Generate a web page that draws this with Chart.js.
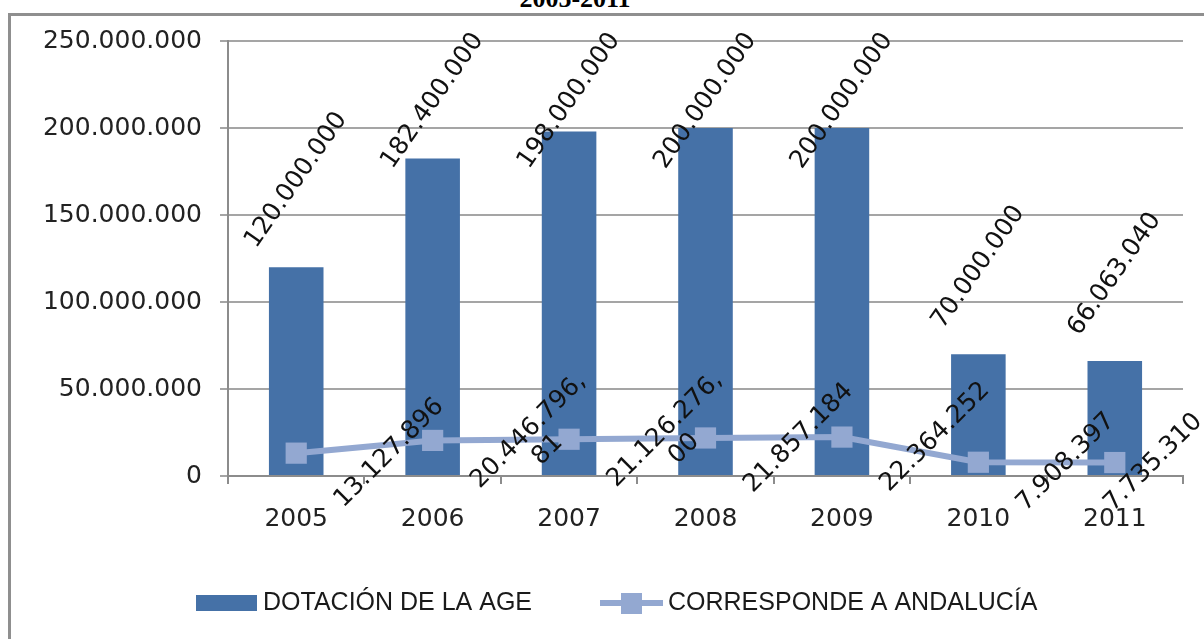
<!DOCTYPE html>
<html>
<head>
<meta charset="utf-8">
<script src="https://cdn.jsdelivr.net/npm/chart.js@4.4.1/dist/chart.umd.min.js"></script>
<style>
  html, body { margin: 0; padding: 0; background: #fff; overflow: hidden; }
  #frame { position: absolute; left: 8px; top: 13px; width: 1400px; height: 900px; border: 3px solid #8f8f8f; }
  #title { position: absolute; left: 0; top: -14px; width: 1150px; text-align: center;
           font: bold 26px "Liberation Serif", serif; line-height: 26px; color: #000; }
  #chart { position: absolute; left: 0; top: 0; }
</style>
</head>
<body>
<div id="frame"></div>
<div id="title">2005-2011</div>
<canvas id="chart" width="1204" height="639"></canvas>
<script>
// data
const years = ['2005', '2006', '2007', '2008', '2009', '2010', '2011'];
const dotacionAge = [120000000, 182400000, 198000000, 200000000, 200000000, 70000000, 66063040];
const andalucia = [13127896, 20446796.81, 21126276.00, 21857184, 22364252, 7908397, 7735310];
const andaluciaDecimals = [0, 2, 2, 0, 0, 0, 0];
const yTicks = [0, 50000000, 100000000, 150000000, 200000000, 250000000];
const seriesNames = ['DOTACIÓN DE LA AGE', 'CORRESPONDE A ANDALUCÍA'];

const barColor = '#4571a7';
const lineColor = '#93a8d1';
const axisFont = { family: 'DejaVu Sans', size: 25 };

// 20446796.81 -> ['20.446.796,', '81']
function fmt(v, dec) {
  const parts = v.toFixed(dec || 0).split('.');
  const whole = parts[0].replace(/\B(?=(\d{3})+(?!\d))/g, '.');
  return parts[1] ? [whole + ',', parts[1]] : [whole];
}

// rotated data labels, like the spreadsheet does
const valueLabels = {
  id: 'valueLabels',
  afterDatasetsDraw(chart) {
    const ctx = chart.ctx;
    ctx.save();
    ctx.font = '25px "DejaVu Sans"';
    ctx.fillStyle = '#111';
    ctx.textAlign = 'center';
    ctx.textBaseline = 'middle';

    chart.getDatasetMeta(0).data.forEach((bar, i) => {
      const txt = fmt(dotacionAge[i])[0];
      const cy = Math.max(bar.y - 87, 101);
      ctx.save();
      ctx.translate(bar.x, cy);
      ctx.rotate(-55 * Math.PI / 180);
      ctx.fillText(txt, 0, 0);
      ctx.restore();
    });

    const lh = 27;
    chart.getDatasetMeta(1).data.forEach((pt, i) => {
      const lines = fmt(andalucia[i], andaluciaDecimals[i]);
      const L = Math.max(...lines.map(s => ctx.measureText(s).width));
      const half = (L + lines.length * lh) * Math.SQRT1_2 / 2;
      const cx = Math.min(pt.x + 33 + half, chart.width + 4 - half);
      ctx.save();
      ctx.translate(cx, pt.y);
      ctx.rotate(-Math.PI / 4);
      lines.forEach((s, k) => ctx.fillText(s, 0, (k - (lines.length - 1) / 2) * lh));
      ctx.restore();
    });
    ctx.restore();
  }
};

// legend under the axis
const bottomLegend = {
  id: 'bottomLegend',
  afterDraw(chart) {
    const ctx = chart.ctx;
    const y = 603;
    ctx.save();
    ctx.fillStyle = barColor;
    ctx.fillRect(196, 595, 61, 16);

    ctx.strokeStyle = lineColor;
    ctx.lineWidth = 6;
    ctx.beginPath();
    ctx.moveTo(600, y);
    ctx.lineTo(663, y);
    ctx.stroke();
    ctx.fillStyle = lineColor;
    ctx.fillRect(621, y - 10, 21, 21);

    ctx.font = '25px "Liberation Sans"';
    ctx.fillStyle = '#1a1a1a';
    ctx.textAlign = 'left';
    ctx.textBaseline = 'middle';
    ctx.fillText(chart.data.datasets[0].label, 263, y);
    ctx.fillText(chart.data.datasets[1].label, 668, y);
    ctx.restore();
  }
};

new Chart(document.getElementById('chart'), {
  type: 'bar',
  data: {
    labels: years,
    datasets: [{
      type: 'bar',
      label: seriesNames[0],
      data: dotacionAge,
      backgroundColor: barColor,
      barPercentage: 0.4,
      categoryPercentage: 1,
      order: 1
    }, {
      type: 'line',
      label: seriesNames[1],
      data: andalucia,
      borderColor: lineColor,
      borderWidth: 6,
      backgroundColor: lineColor,
      pointStyle: 'rect',
      pointRadius: 15,
      pointBorderWidth: 0,
      pointBackgroundColor: lineColor,
      tension: 0,
      fill: false,
      order: 0
    }]
  },
  options: {
    responsive: false,
    animation: false,
    devicePixelRatio: 1,
    layout: { padding: { top: 41, right: 21, left: 0, bottom: 0 } },
    plugins: {
      legend: { display: false },
      tooltip: { enabled: false }
    },
    scales: {
      x: {
        offset: true,
        grid: { offset: true, drawOnChartArea: false, drawTicks: true, tickLength: 8, color: '#8c8c8c', lineWidth: 2 },
        border: { display: true, color: '#8c8c8c', width: 2 },
        ticks: { font: axisFont, color: '#222', padding: 20, maxRotation: 0, autoSkip: false },
        afterFit(scale) { scale.height = 163; }
      },
      y: {
        min: 0,
        max: 250000000,
        afterBuildTicks(scale) { scale.ticks = yTicks.map(v => ({ value: v })); },
        grid: { color: '#a5a5a5', lineWidth: 2, tickLength: 8 },
        border: { display: true, color: '#8c8c8c', width: 2 },
        ticks: { font: axisFont, color: '#222', padding: 18, callback: v => fmt(v)[0] },
        afterFit(scale) { scale.width = 228; }
      }
    }
  },
  plugins: [valueLabels, bottomLegend]
});
</script>
</body>
</html>
